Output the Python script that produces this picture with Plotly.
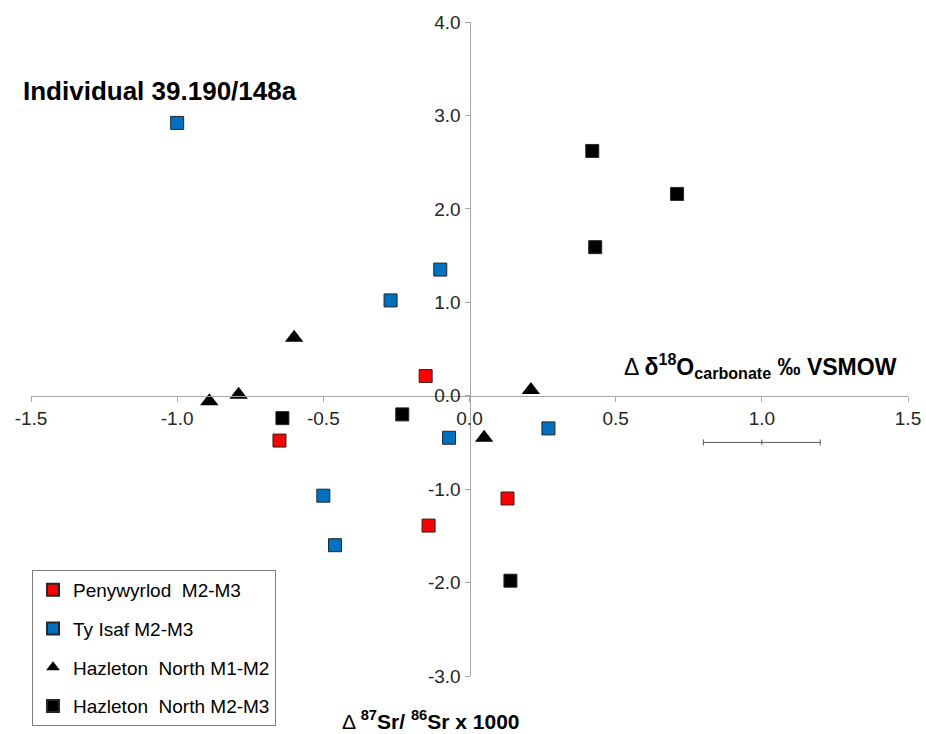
import plotly.graph_objects as go

# ---- data ----
peny_x = [-0.15, -0.65, -0.14, 0.13]
peny_y = [0.21, -0.48, -1.39, -1.10]

tyisaf_x = [-1.00, -0.10, -0.27, -0.07, 0.27, -0.50, -0.46]
tyisaf_y = [2.92, 1.35, 1.02, -0.45, -0.35, -1.07, -1.60]

haz12_x = [-0.60, -0.89, -0.79, 0.21, 0.05]
haz12_y = [0.62, -0.06, 0.01, 0.06, -0.45]

haz23_x = [0.42, 0.71, 0.43, -0.64, -0.23, 0.14]
haz23_y = [2.62, 2.16, 1.59, -0.24, -0.20, -1.98]

err_x = [1.0]
err_y = [-0.5]
err_dx = [0.2]
err_dy = [0.03]

series_names = ["Penywyrlod\u00a0 M2-M3", "Ty Isaf M2-M3",
                "Hazleton\u00a0 North M1-M2", "Hazleton\u00a0 North M2-M3"]

x_ticks = [-1.5, -1.0, -0.5, 0.0, 0.5, 1.0, 1.5]
y_ticks = [-3.0, -2.0, -1.0, 0.0, 1.0, 2.0, 3.0, 4.0]

# ---- figure ----
fig = go.Figure()

def sq(color):
    return dict(symbol="square", size=13, color=color,
                line=dict(color="#262626", width=1))

fig.add_trace(go.Scatter(x=peny_x, y=peny_y, mode="markers", name=series_names[0],
                         legendgroup="a", marker=sq("#FF0000")))
fig.add_trace(go.Scatter(x=tyisaf_x, y=tyisaf_y, mode="markers", name=series_names[1],
                         legendgroup="b", marker=sq("#0070C0")))
fig.add_trace(go.Scatter(x=haz12_x, y=haz12_y, mode="markers", name=series_names[2],
                         legendgroup="c",
                         marker=dict(symbol="triangle-up", size=16, color="#000000",
                                     line=dict(color="#000000", width=0))))
fig.add_trace(go.Scatter(x=haz23_x, y=haz23_y, mode="markers", name=series_names[3],
                         legendgroup="d", marker=sq("#000000")))

# scale error bar
fig.add_trace(go.Scatter(x=err_x, y=err_y, mode="markers", showlegend=False,
                         marker=dict(size=1, opacity=0),
                         error_x=dict(type="data", array=err_dx, symmetric=True,
                                      color="#595959", thickness=1, width=3),
                         error_y=dict(type="data", array=err_dy, symmetric=True,
                                      color="#595959", thickness=1, width=0),
                         hoverinfo="skip"))

axis_color = "#A6A6A6"
tick_font = dict(family="Liberation Sans, Arial, sans-serif", size=19, color="#262626")

fig.update_layout(
    width=926, height=734,
    margin=dict(l=31, r=18, t=22, b=58, autoexpand=False),
    paper_bgcolor="white", plot_bgcolor="white",
    showlegend=True,
    legend=dict(xref="container", yref="container", x=0.0346, y=0.2234,
                xanchor="left", yanchor="top",
                bordercolor="#7F7F7F", borderwidth=1, bgcolor="white",
                font=dict(family="Liberation Sans, Arial, sans-serif", size=19, color="#000000"),
                tracegroupgap=11, itemwidth=30, itemsizing="constant"),
    xaxis=dict(range=[-1.5, 1.5], tickvals=x_ticks, ticktext=[f"{v:.1f}" for v in x_ticks],
               showgrid=False, zeroline=False, showline=True, linecolor=axis_color,
               linewidth=1, ticks="outside", ticklen=5, tickcolor=axis_color,
               anchor="free", position=3/7, tickfont=tick_font, automargin=False),
    yaxis=dict(range=[-3.0, 4.0], tickvals=y_ticks, ticktext=[f"{v:.1f}" for v in y_ticks],
               showgrid=False, zeroline=False, showline=True, linecolor=axis_color,
               linewidth=1, ticks="outside", ticklen=5, tickcolor=axis_color,
               anchor="free", position=0.5, tickfont=tick_font, automargin=False),
)

fig.add_annotation(
    text="<b>Individual 39.190/148a</b>", xref="paper", yref="paper",
    x=-0.011, y=0.894, xanchor="left", yanchor="middle", showarrow=False,
    font=dict(family="Liberation Sans, Arial, sans-serif", size=26, color="#000000"))

fig.add_annotation(
    text="Δ <b>δ<sup>18</sup>O<sub>carbonate</sub> ‰ VSMOW</b>", xref="paper", yref="y",
    x=0.990, y=0.32, xanchor="right", yanchor="middle", showarrow=False,
    font=dict(family="Liberation Sans, Arial, sans-serif", size=23, color="#000000"))

fig.add_annotation(
    text="Δ <b><sup>87</sup>Sr/ <sup>86</sup>Sr x 1000</b>", xref="paper", yref="paper",
    x=0.456, y=-0.067, xanchor="center", yanchor="middle", showarrow=False,
    font=dict(family="Liberation Sans, Arial, sans-serif", size=21, color="#000000"))

# remove the default 8px page margin so the figure sits at the window's corner
fig.write_html("out.html", config={"displayModeBar": False},
               post_script="document.body.style.margin='0';document.body.style.overflow='hidden';")
